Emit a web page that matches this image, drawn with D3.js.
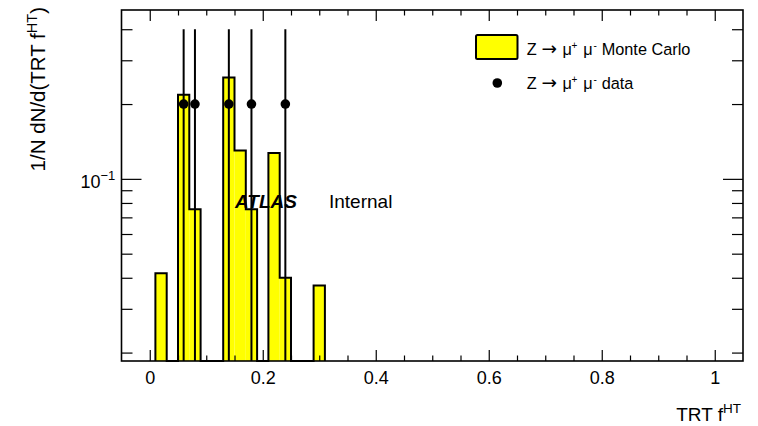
<!DOCTYPE html>
<html>
<head>
<meta charset="utf-8">
<script src="https://cdn.jsdelivr.net/npm/d3@7"></script>
<style>
  body { margin: 0; background: #fff; }
  svg { font-family: "Liberation Sans", Arial, Helvetica, sans-serif; }
</style>
</head>
<body>
<div id="holder"></div>
<script>
// histogram bins (lower edges), width 0.02
const binLow = [0.01, 0.03, 0.05, 0.07, 0.09, 0.11, 0.13, 0.15, 0.17, 0.19, 0.21, 0.23, 0.25, 0.27, 0.29];
const mcFraction = [0.0417, 0, 0.218, 0.0755, 0, 0, 0.256, 0.130, 0.0755, 0, 0.127, 0.040, 0, 0, 0.0372];
const binWidth = 0.02;

// data points
const dataX = [0.06, 0.08, 0.14, 0.18, 0.24];
const dataY = [0.2, 0.2, 0.2, 0.2, 0.2];
const dataErr = [0.2, 0.2, 0.2, 0.2, 0.2];

// ticks
const xMajorTicks = [0, 0.2, 0.4, 0.6, 0.8, 1];
const xMinorTicks = [0.05, 0.1, 0.15, 0.25, 0.3, 0.35, 0.45, 0.5, 0.55, 0.65, 0.7, 0.75, 0.85, 0.9, 0.95];
const yMajorTicks = [0.1];
const yMinorTicks = [0.02, 0.03, 0.04, 0.05, 0.06, 0.07, 0.08, 0.09, 0.2, 0.3, 0.4];

const width = 758;
const height = 426;
const frameL = 121.5, frameR = 743, frameT = 10, frameB = 361;

const x = d3.scaleLinear().domain([-0.05, 1.05]).range([frameL, frameR]);
const y = d3.scaleLog().domain([0.0185, 0.478]).range([frameB, frameT]);
const yPos = (v) => v > 0 ? Math.min(y(v), frameB) : frameB;

const svg = d3.select("#holder")
    .append("svg")
    .attr("width", width)
    .attr("height", height);

// MC fill
svg.append("g")
    .selectAll("rect")
    .data(binLow.filter((d, i) => mcFraction[i] > 0))
    .enter()
    .append("rect")
    .attr("x", (d) => x(d))
    .attr("width", (d) => x(d + binWidth) - x(d))
    .attr("y", (d) => yPos(mcFraction[binLow.indexOf(d)]))
    .attr("height", (d) => frameB - yPos(mcFraction[binLow.indexOf(d)]))
    .attr("fill", "#ffff00");

// MC outline as a step line
const stepPoints = [[x(binLow[0]), frameB]];
binLow.forEach((lo, i) => stepPoints.push([x(lo), yPos(mcFraction[i])]));
stepPoints.push([x(binLow[binLow.length - 1] + binWidth), frameB]);

svg.append("path")
    .attr("d", d3.line().curve(d3.curveStepAfter)(stepPoints))
    .attr("fill", "none")
    .attr("stroke", "black")
    .attr("stroke-width", 2);

// data error bars + markers
const pts = svg.append("g");
pts.selectAll("line")
    .data(dataX)
    .enter()
    .append("line")
    .attr("x1", (d) => x(d))
    .attr("x2", (d) => x(d))
    .attr("y1", (d, i) => yPos(dataY[i] + dataErr[i]))
    .attr("y2", (d, i) => yPos(dataY[i] - dataErr[i]))
    .attr("stroke", "black")
    .attr("stroke-width", 2);
pts.selectAll("circle")
    .data(dataX)
    .enter()
    .append("circle")
    .attr("cx", (d) => x(d))
    .attr("cy", (d, i) => y(dataY[i]))
    .attr("r", 4.8)
    .attr("fill", "black");

// frame
svg.append("rect")
    .attr("x", frameL)
    .attr("y", frameT)
    .attr("width", frameR - frameL)
    .attr("height", frameB - frameT)
    .attr("fill", "none")
    .attr("stroke", "black")
    .attr("stroke-width", 1.6);

// axes (ticks pointing inward)
function styleAxis(g) {
    g.select(".domain").remove();
    g.selectAll(".tick line").attr("stroke", "black").attr("stroke-width", 1.2);
}

const xLabels = svg.append("g")
    .attr("transform", `translate(0,${frameB})`)
    .call(d3.axisBottom(x).tickValues(xMajorTicks).tickSize(-11).tickPadding(10).tickFormat(d3.format("~g")))
    .call(styleAxis);
xLabels.selectAll("text")
    .attr("fill", "black")
    .attr("font-size", 18)
    .attr("font-family", "Liberation Sans, Arial, sans-serif");

svg.append("g")
    .attr("transform", `translate(0,${frameB})`)
    .call(d3.axisBottom(x).tickValues(xMinorTicks).tickSize(-5.5).tickFormat(""))
    .call(styleAxis);
svg.append("g")
    .attr("transform", `translate(0,${frameT})`)
    .call(d3.axisTop(x).tickValues(xMajorTicks).tickSize(-11).tickFormat(""))
    .call(styleAxis);
svg.append("g")
    .attr("transform", `translate(0,${frameT})`)
    .call(d3.axisTop(x).tickValues(xMinorTicks).tickSize(-5.5).tickFormat(""))
    .call(styleAxis);

svg.append("g")
    .attr("transform", `translate(${frameL},0)`)
    .call(d3.axisLeft(y).tickValues(yMajorTicks).tickSize(-20).tickFormat(""))
    .call(styleAxis);
svg.append("g")
    .attr("transform", `translate(${frameL},0)`)
    .call(d3.axisLeft(y).tickValues(yMinorTicks).tickSize(-11).tickFormat(""))
    .call(styleAxis);
svg.append("g")
    .attr("transform", `translate(${frameR},0)`)
    .call(d3.axisRight(y).tickValues(yMajorTicks).tickSize(-20).tickFormat(""))
    .call(styleAxis);
svg.append("g")
    .attr("transform", `translate(${frameR},0)`)
    .call(d3.axisRight(y).tickValues(yMinorTicks).tickSize(-11).tickFormat(""))
    .call(styleAxis);

// y tick label 10^-1
yMajorTicks.forEach((v) => {
    const t = svg.append("text")
        .attr("x", 80.5)
        .attr("y", y(v) + 9.5)
        .attr("font-size", 18);
    t.append("tspan").text("10");
    t.append("tspan").attr("dy", -8.5).attr("font-size", 13).text("\u22121");
});

// axis titles
const xt = svg.append("text")
    .attr("x", 741)
    .attr("y", 421)
    .attr("text-anchor", "end")
    .attr("font-size", 19);
xt.append("tspan").text("TRT f");
xt.append("tspan").attr("dy", -8).attr("font-size", 13.5).text("HT");

const yt = svg.append("text")
    .attr("transform", "translate(45,7) rotate(-90)")
    .attr("text-anchor", "end")
    .attr("font-size", 20.5);
yt.append("tspan").text("1/N dN/d(TRT f");
yt.append("tspan").attr("dy", -8.5).attr("font-size", 14.5).text("HT");
yt.append("tspan").attr("dy", 8.5).text(")");

// ATLAS Internal
svg.append("text")
    .attr("x", 235)
    .attr("y", 208)
    .attr("font-size", 19)
    .attr("font-weight", "bold")
    .attr("font-style", "italic")
    .text("ATLAS");
svg.append("text")
    .attr("x", 329)
    .attr("y", 208)
    .attr("font-size", 19)
    .text("Internal");

// legend
const legendFont = 16.3;
svg.append("rect")
    .attr("x", 476)
    .attr("y", 35)
    .attr("width", 41.5)
    .attr("height", 24)
    .attr("rx", 1.5)
    .attr("fill", "#ffff00")
    .attr("stroke", "black")
    .attr("stroke-width", 2);
svg.append("circle")
    .attr("cx", 497.3)
    .attr("cy", 83)
    .attr("r", 4.8)
    .attr("fill", "black");

function legendLabel(yBase, tail) {
    const t = svg.append("text").attr("y", yBase).attr("font-size", legendFont);
    t.append("tspan").attr("x", 526.7).text("Z");
    t.append("tspan").attr("x", 541.5).attr("font-family", "DejaVu Sans").attr("font-size", 18.5).text("\u2192");
    t.append("tspan").attr("x", 562.5).text("\u03bc");
    t.append("tspan").attr("x", 571.5).attr("dy", -6).attr("font-size", 10).text("+");
    t.append("tspan").attr("x", 583.3).attr("dy", 6).text("\u03bc");
    t.append("tspan").attr("x", 593.5).attr("dy", -6).attr("font-size", 10).text("-");
    t.append("tspan").attr("x", 601.7).attr("dy", 6).text(tail);
}
legendLabel(55, "Monte Carlo");
legendLabel(88.5, "data");
</script>
</body>
</html>
